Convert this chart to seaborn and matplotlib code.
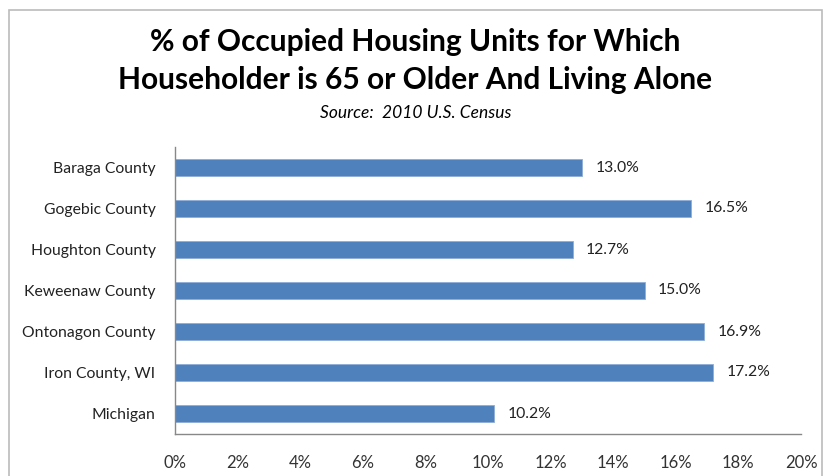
import matplotlib
matplotlib.use("Agg")
import matplotlib.pyplot as plt
import seaborn as sns
import pandas as pd
from matplotlib.patches import Rectangle

categories = ["Baraga County", "Gogebic County", "Houghton County", "Keweenaw County",
              "Ontonagon County", "Iron County, WI", "Michigan"]
values = [13.0, 16.5, 12.7, 15.0, 16.9, 17.2, 10.2]
x_ticks = [0, 2, 4, 6, 8, 10, 12, 14, 16, 18, 20]
x_tick_labels = [f"{t}%" for t in x_ticks]

sns.set_theme(style="white")
plt.rcParams['font.family'] = ['Lato', 'DejaVu Sans']

df = pd.DataFrame({"cat": categories, "val": values})

W, H = 831, 476
fig = plt.figure(figsize=(W / 100, H / 100), dpi=100)
ax = fig.add_axes([175 / W, 1 - 434 / H, (801 - 175) / W, (434 - 147) / H])

sns.barplot(data=df, x="val", y="cat", ax=ax, color="#4F81BD", width=0.4,
            saturation=1, orient="h", edgecolor="#8EADD6", linewidth=0.6)

ax.set_xlim(0, 20)
ax.set_ylim(len(categories) - 0.5, -0.5)
ax.set_xticks(x_ticks)
ax.set_xticklabels(x_tick_labels, fontsize=12, color="#333333")
ax.set_yticks(range(len(categories)))
ax.set_yticklabels(categories, fontsize=11.3, color="#222222")
ax.set_xlabel("")
ax.set_ylabel("")

for s in ["top", "right"]:
    ax.spines[s].set_visible(False)
for s in ["left", "bottom"]:
    ax.spines[s].set_color("#888888")
    ax.spines[s].set_linewidth(1.0)

ax.tick_params(axis="x", which="major", length=5, color="#888888", direction="out", pad=10)
ax.tick_params(axis="y", which="major", length=0, pad=14)
ax.set_yticks([i - 0.5 for i in range(len(categories) + 1)], minor=True)
ax.tick_params(axis="y", which="minor", length=5, color="#888888", direction="out")

for i, v in enumerate(values):
    ax.text(v + 0.43, i, f"{v:.1f}%", va="center", ha="left", fontsize=11.3, color="#222222")

fig.text(0.5, 1 - 42 / H, "% of Occupied Housing Units for Which", ha="center", va="center",
         fontsize=21.5, fontweight="bold", color="black")
fig.text(0.5, 1 - 80 / H, "Householder is 65 or Older And Living Alone", ha="center", va="center",
         fontsize=21.5, fontweight="bold", color="black")
fig.text(0.5, 1 - 113 / H, "Source:  2010 U.S. Census", ha="center", va="center",
         fontsize=12.5, style="italic", color="black")

fig.patches.append(Rectangle((9 / W, -0.1), (822 - 9) / W, 1.1 - 10 / H, transform=fig.transFigure,
                             fill=False, edgecolor="#bbbbbb", linewidth=1.2))

fig.savefig("out.png", dpi=100, facecolor="white")
